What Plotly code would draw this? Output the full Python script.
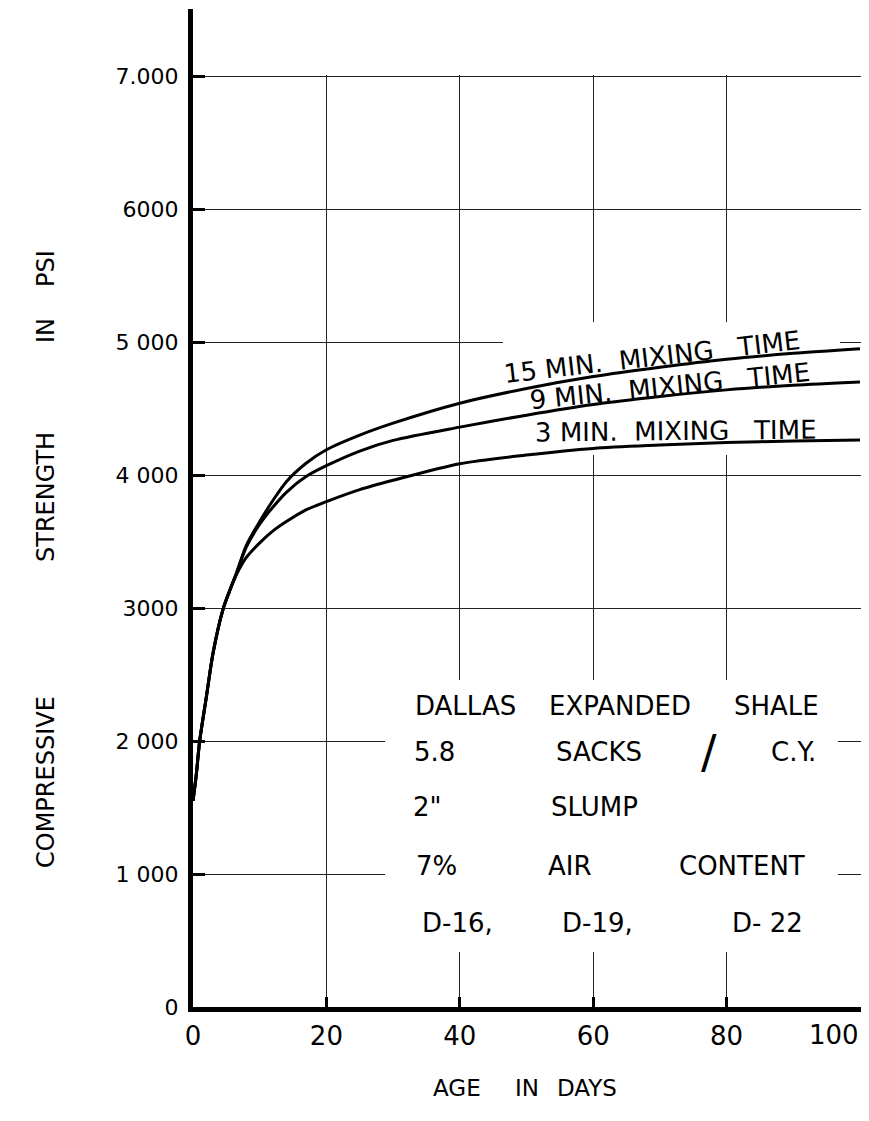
import plotly.graph_objects as go

# ---- data ----
days = [0, 0.5, 1, 2, 3, 4.5, 5.5, 6.5, 8, 10, 12, 14, 17, 20, 25, 30, 40, 50, 60, 70, 80, 90, 100]
mix15 = [1550, 1750, 2000, 2330, 2660, 2990, 3130, 3260, 3470, 3650, 3810, 3950, 4090, 4190, 4300, 4390, 4540, 4650, 4740, 4810, 4870, 4915, 4950]
mix9 = [1550, 1750, 2000, 2330, 2660, 2990, 3130, 3260, 3460, 3630, 3760, 3870, 3990, 4070, 4180, 4260, 4360, 4450, 4530, 4590, 4640, 4675, 4700]
mix3 = [1550, 1750, 2000, 2330, 2660, 2990, 3130, 3250, 3380, 3490, 3580, 3650, 3740, 3800, 3890, 3960, 4085, 4150, 4200, 4225, 4245, 4255, 4263]

x_ticks = [0, 20, 40, 60, 80, 100]
x_ticktext = ["0", "20", "40", "60", "80", ""]   # last label drawn right-aligned below
x_last_label = "100"
y_ticks = [0, 1000, 2000, 3000, 4000, 5000, 6000, 7000]
y_ticktext = ["0", "1 000", "2 000", "3000", "4 000", "5 000", "6000", "7.000"]

FONT = "DejaVu Sans"

# ---- geometry (figure sized to sit inside the page's 8px body margin) ----
OFF = 8                       # browser body margin
W, H = 853, 1100
L, R, T, B = 185, 0, 1, 101
pw = W - L - R                # 668 px
ph = H - T - B                # 998 px
XMAX = pw / 6.67              # 6.67 px per day
YMAX = ph / 0.133             # 133 px per 1000 psi


# helpers: reference-picture pixel -> axis / paper units
def dx(rx):
    return (rx - OFF - L) / pw * XMAX


def dy(ry):
    return (H - B - (ry - OFF)) / ph * YMAX


def px_paper(rx):
    return (rx - OFF - L) / pw


def py_paper(ry):
    return (H - B - (ry - OFF)) / ph


fig = go.Figure()
for name, vals in [("15 MIN", mix15), ("9 MIN", mix9), ("3 MIN", mix3)]:
    fig.add_trace(go.Scatter(x=days, y=vals, mode="lines", name=name,
                             line=dict(color="black", width=3, shape="spline", smoothing=0.8),
                             showlegend=False, hoverinfo="x+y"))

# white masks to interrupt gridlines (as in the drafted original)
masks = [
    (193, 0, 870, 75),              # above 7000 line
    (385, 680, 838, 952),           # note block
    (503, 322, 840, 455),           # curve labels
]
for x0, y0, x1, y1 in masks:
    fig.add_shape(type="rect", xref="x", yref="y",
                  x0=dx(x0), x1=min(dx(x1), XMAX), y0=dy(y1), y1=min(dy(y0), YMAX),
                  fillcolor="white", line=dict(width=0), layer="between")

ann = []
# curve labels
for text, cx, cy, ang in [
    ("15 MIN.  MIXING   TIME", 652, 357, -6.6),
    ("9 MIN.  MIXING   TIME", 670, 386, -5.8),
    ("3 MIN.  MIXING   TIME", 676, 431, -0.6),
]:
    ann.append(dict(x=dx(cx), y=dy(cy), xref="x", yref="y", text=text.replace(" ", "\u00a0"),
                    showarrow=False, textangle=ang, font=dict(family=FONT, size=26, color="black"),
                    xanchor="center", yanchor="middle"))

# note block words (centre x, centre y)
words = [
    ("DALLAS", 465, 706), ("EXPANDED", 620, 706), ("SHALE", 776, 706),
    ("5.8", 434, 752), ("SACKS", 599, 752), ("C.Y.", 793, 752),
    ("2\"", 427, 807), ("SLUMP", 594, 807),
    ("7%", 436, 866), ("AIR", 570, 866), ("CONTENT", 742, 866),
    ("D-16,", 457, 923), ("D-19,", 597, 923), ("D-\u00a022", 767, 923),
]
for t, cx, cy in words:
    ann.append(dict(x=dx(cx), y=dy(cy), xref="x", yref="y", text=t, showarrow=False,
                    font=dict(family=FONT, size=26, color="black"), xanchor="center", yanchor="middle"))
ann.append(dict(x=dx(709), y=dy(752), xref="x", yref="y", text="/", showarrow=False,
                font=dict(family=FONT, size=46, color="black"), xanchor="center", yanchor="middle"))

# last x tick label, kept inside the page as in the original
ann.append(dict(x=px_paper(861), y=py_paper(1035), xref="paper", yref="paper", text=x_last_label,
                showarrow=False, xanchor="right", yanchor="middle",
                font=dict(family=FONT, size=26, color="black")))

# axis titles as spaced words
for t, cx in [("AGE", 457), ("IN", 527), ("DAYS", 587)]:
    ann.append(dict(x=px_paper(cx), y=py_paper(1088), xref="paper", yref="paper", text=t,
                    showarrow=False, font=dict(family=FONT, size=23, color="black"),
                    xanchor="center", yanchor="middle"))
for t, cy in [("COMPRESSIVE", 782), ("STRENGTH", 497), ("IN", 331), ("PSI", 269)]:
    ann.append(dict(x=px_paper(46), y=py_paper(cy), xref="paper", yref="paper", text=t,
                    showarrow=False, textangle=-90, font=dict(family=FONT, size=24, color="black"),
                    xanchor="center", yanchor="middle"))

fig.update_layout(
    width=W, height=H,
    margin=dict(l=L, r=R, t=T, b=B, autoexpand=False),
    plot_bgcolor="white", paper_bgcolor="white",
    annotations=ann,
    xaxis=dict(range=[0, XMAX], tickvals=x_ticks, ticktext=x_ticktext, automargin=False,
               showgrid=True, gridcolor="#222", gridwidth=1, zeroline=False,
               showline=True, linecolor="black", linewidth=5,
               ticks="inside", ticklen=10, tickwidth=3, tickcolor="black",
               ticklabelstandoff=2,
               tickfont=dict(family=FONT, size=26, color="black")),
    yaxis=dict(range=[0, YMAX], tickvals=y_ticks, ticktext=y_ticktext, automargin=False,
               showgrid=True, gridcolor="#222", gridwidth=1, zeroline=False,
               showline=True, linecolor="black", linewidth=5,
               ticks="inside", ticklen=12, tickwidth=3, tickcolor="black",
               ticklabelstandoff=5,
               tickfont=dict(family=FONT, size=22, color="black")),
)

fig.write_html("out.html")
